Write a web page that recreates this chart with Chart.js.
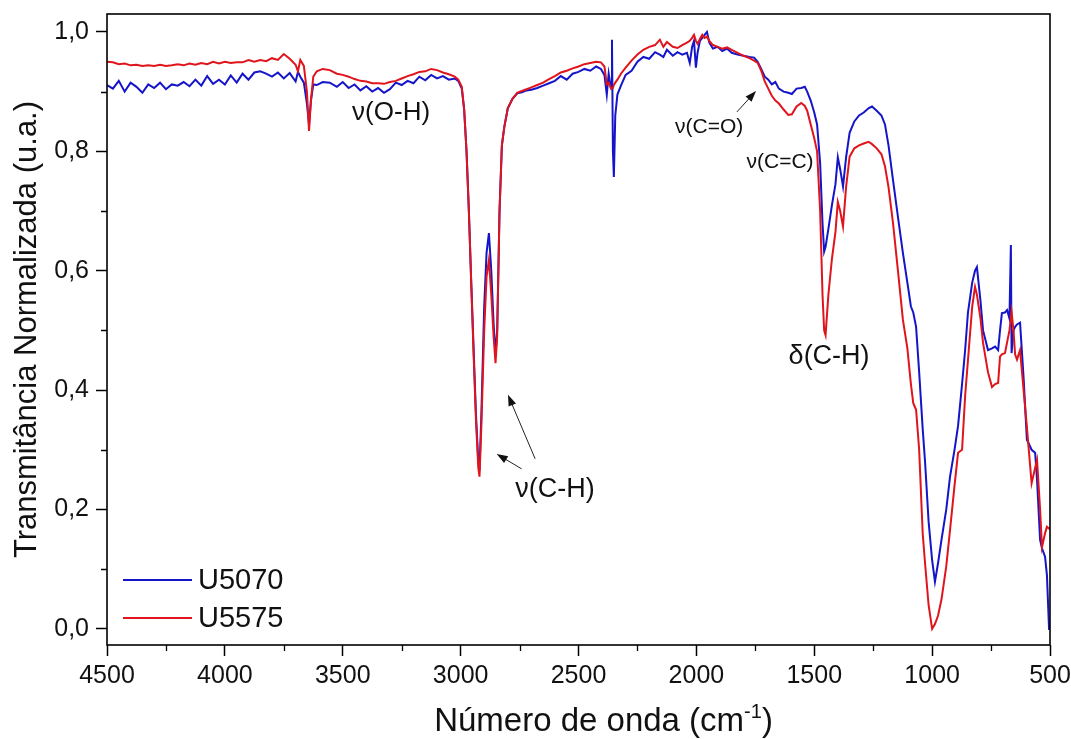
<!DOCTYPE html>
<html>
<head>
<meta charset="utf-8">
<title>FTIR U5070 / U5575</title>
<script src="https://cdn.jsdelivr.net/npm/chart.js@4.4.1/dist/chart.umd.min.js"></script>
<style>
    html, body { margin: 0; padding: 0; background: #fff; }
    #wrap { width: 1071px; height: 739px; }
</style>
</head>
<body>
<div id="wrap"><canvas id="ftir" width="1071" height="739"></canvas></div>
<script>
// Wavenumber (cm-1), shared by both spectra
const wavenumber = [
    4500, 4475, 4450, 4425, 4400, 4375, 4350, 4325, 4300, 4275,
    4250, 4225, 4200, 4175, 4150, 4125, 4100, 4075, 4050, 4025,
    4000, 3975, 3950, 3925, 3900, 3875, 3850, 3825, 3800, 3775,
    3750, 3725, 3700,
    3690, 3680, 3665, 3652, 3643, 3635, 3625, 3610, 3585, 3555,
    3525, 3500, 3475, 3450, 3425, 3400, 3375, 3350, 3325, 3300,
    3275, 3250, 3225, 3200, 3175, 3150, 3125, 3100, 3075, 3050,
    3025, 3010,
    2995, 2985, 2975, 2965, 2955, 2945, 2935, 2925, 2920, 2912,
    2900, 2890, 2880, 2870, 2860, 2852, 2845, 2835, 2825, 2815,
    2800, 2780, 2760,
    2740, 2720, 2700, 2675, 2650, 2625, 2600, 2575, 2550, 2525,
    2500, 2475, 2450, 2425, 2405, 2390, 2380, 2372, 2362, 2358,
    2354, 2350, 2344, 2335, 2320, 2300, 2275, 2250, 2225, 2200,
    2175, 2155, 2140, 2125, 2100, 2080, 2060, 2040, 2028, 2018,
    2010, 2002, 1995, 1985, 1975, 1965, 1955, 1945, 1930, 1910,
    1890, 1870, 1850, 1825, 1800, 1775, 1755,
    1740, 1725, 1710, 1695, 1680, 1665, 1650, 1630, 1610, 1595,
    1575, 1555, 1540, 1530, 1515, 1500, 1488, 1475, 1465, 1458,
    1452, 1440, 1425, 1410, 1400, 1390, 1378, 1365, 1350, 1330,
    1310, 1290, 1270, 1255, 1235, 1215, 1200, 1185, 1166, 1145,
    1124, 1105, 1090, 1080, 1068, 1055, 1040, 1030, 1015, 1000,
    988, 975, 960, 940, 924, 905, 890, 873, 860, 848,
    830, 818, 810, 795, 784, 763, 746, 733, 720, 712,
    704, 691, 682, 672, 666, 663, 655, 648, 640, 627,
    612, 598, 578, 563, 555, 542, 534, 521, 513, 504,
    500
];

// Normalized transmittance, sample U5070
const u5070 = [
    .911, .905, .918, .900, .915, .908, .898, .912, .906, .915,
    .904, .912, .910, .916, .909, .920, .910, .926, .913, .920,
    .912, .927, .915, .930, .920, .932, .934, .930, .925, .932,
    .922, .931, .917,
    .933, .925, .915, .880, .845, .885, .912, .911, .916, .915,
    .908, .916, .906, .912, .902, .909, .900, .906, .898, .904,
    .915, .911, .918, .914, .925, .919, .928, .922, .926, .920,
    .922, .918,
    .905, .870, .800, .700, .580, .470, .360, .280, .265, .360,
    .540, .630, .663, .600, .510, .460, .500, .700, .810, .840,
    .872, .888, .897,
    .899, .902, .903, .906, .910, .914, .918, .926, .920, .930,
    .933, .938, .935, .942, .938, .928, .895, .930, .905, .987,
    .800, .757, .860, .895, .910, .928, .935, .950, .958, .955,
    .966, .962, .958, .970, .960, .966, .962, .965, .948, .975,
    .985, .940, .965, .985, .990, .995, 1.00, .982, .972, .975,
    .968, .972, .965, .962, .960, .958, .957,
    .950, .938, .925, .920, .912, .916, .905, .900, .898, .896,
    .905, .906, .908, .900, .885, .865, .845, .780, .680, .632,
    .640, .670, .710, .745, .790, .770, .741, .790, .831, .850,
    .860, .865, .872, .875, .868, .860, .845, .810, .752, .690,
    .630, .580, .540, .530, .506, .430, .335, .280, .180, .115,
    .079, .110, .150, .200, .255, .300, .340, .410, .467, .530,
    .580, .600, .606, .550, .500, .467, .470, .473, .467, .500,
    .529, .530, .534, .520, .643, .462, .500, .506, .510, .513,
    .420, .317, .300, .295, .250, .149, .135, .121, .090, .000,
    .000
];

// Normalized transmittance, sample U5575
const u5575 = [
    .950, .949, .946, .947, .944, .945, .943, .944, .943, .945,
    .943, .944, .946, .944, .947, .945, .948, .946, .950, .947,
    .950, .948, .949, .949, .953, .950, .953, .951, .956, .953,
    .963, .955, .945,
    .934, .953, .943, .900, .834, .885, .925, .934, .938, .936,
    .930, .928, .925, .921, .918, .917, .914, .914, .913, .916,
    .918, .922, .926, .929, .933, .934, .938, .936, .932, .929,
    .925, .920,
    .908, .870, .800, .700, .580, .460, .350, .270, .255, .340,
    .500, .590, .618, .560, .490, .445, .490, .700, .810, .840,
    .872, .888, .898,
    .901, .904, .907, .911, .915, .921, .926, .932, .935, .939,
    .942, .946, .948, .950, .949, .942, .912, .915, .905, .905,
    .906, .911, .915, .920, .930, .940, .952, .962, .970, .975,
    .978, .987, .975, .983, .975, .973, .978, .982, .985, .990,
    .995, .985, .980, .988, .995, .990, .992, .985, .978, .975,
    .972, .974, .970, .965, .960, .956, .952,
    .948, .935, .917, .905, .893, .885, .880, .870, .861, .862,
    .875, .881, .876, .868, .845, .822, .800, .700, .560, .500,
    .492, .560, .620, .665, .715, .700, .674, .740, .791, .805,
    .810, .813, .816, .812, .805, .795, .775, .740, .680, .600,
    .518, .470, .410, .378, .367, .300, .160, .110, .040, .000,
    .008, .022, .050, .105, .166, .240, .295, .300, .390, .450,
    .540, .573, .560, .520, .479, .430, .405, .410, .412, .456,
    .460, .462, .480, .500, .520, .531, .500, .460, .451, .467,
    .400, .338, .244, .270, .283, .200, .137, .160, .171, .168,
    .170
];

const seriesNames = ['U5070', 'U5575'];
const seriesColors = ['#1414c8', '#e0141c'];

const xMajorTicks = [4500, 4000, 3500, 3000, 2500, 2000, 1500, 1000, 500];
const xMinorTicks = [4250, 3750, 3250, 2750, 2250, 1750, 1250, 750];
const yMajorTicks = [0, 0.2, 0.4, 0.6, 0.8, 1.0];
const yMinorTicks = [0.1, 0.3, 0.5, 0.7, 0.9];

// band labels, placed in data coordinates
const bandLabels = [
    { text: 'ν(O-H)', x: 3295, y: 0.864, size: 26 },
    { text: 'ν(C-H)', x: 2600, y: 0.233, size: 27 },
    { text: 'ν(C=O)', x: 1946, y: 0.841, size: 21 },
    { text: 'ν(C=C)', x: 1645, y: 0.782, size: 21 },
    { text: 'δ(C-H)', x: 1437, y: 0.457, size: 27 }
];
const bandArrows = [
    { from: [2741, 0.268], to: [2847, 0.293] },
    { from: [2684, 0.285], to: [2799, 0.392] },
    { from: [1828, 0.866], to: [1747, 0.901] }
];

const FONT = 'Liberation Sans, Arial, sans-serif';

function drawArrow(ctx, x1, y1, x2, y2) {
    const ang = Math.atan2(y2 - y1, x2 - x1);
    const len = 11, half = 4;
    ctx.beginPath();
    ctx.moveTo(x1, y1);
    ctx.lineTo(x2 - Math.cos(ang) * len * 0.8, y2 - Math.sin(ang) * len * 0.8);
    ctx.stroke();
    ctx.beginPath();
    ctx.moveTo(x2, y2);
    ctx.lineTo(x2 - Math.cos(ang) * len - Math.sin(ang) * half, y2 - Math.sin(ang) * len + Math.cos(ang) * half);
    ctx.lineTo(x2 - Math.cos(ang) * len + Math.sin(ang) * half, y2 - Math.sin(ang) * len - Math.cos(ang) * half);
    ctx.closePath();
    ctx.fill();
}

// frame, minor ticks, legend, band labels and x title
const decorations = {
    id: 'decorations',
    afterDraw(chart) {
        const { ctx, chartArea: area, scales: { x, y } } = chart;
        ctx.save();
        ctx.strokeStyle = '#000';
        ctx.fillStyle = '#000';

        ctx.lineWidth = 1.6;
        ctx.strokeRect(area.left, area.top, area.right - area.left, area.bottom - area.top);

        ctx.lineWidth = 1.3;
        ctx.beginPath();
        xMinorTicks.forEach(v => {
            const px = Math.round(x.getPixelForValue(v)) + 0.5;
            ctx.moveTo(px, area.bottom);
            ctx.lineTo(px, area.bottom + 6);
        });
        yMinorTicks.forEach(v => {
            const py = Math.round(y.getPixelForValue(v)) + 0.5;
            ctx.moveTo(area.left - 6, py);
            ctx.lineTo(area.left, py);
        });
        ctx.stroke();

        // legend
        ctx.font = `29px ${FONT}`;
        ctx.textBaseline = 'middle';
        ctx.textAlign = 'left';
        seriesNames.forEach((name, i) => {
            const ly = area.bottom - 65 + i * 38;
            ctx.strokeStyle = seriesColors[i];
            ctx.lineWidth = 2;
            ctx.beginPath();
            ctx.moveTo(area.left + 16, ly);
            ctx.lineTo(area.left + 85, ly);
            ctx.stroke();
            ctx.fillStyle = '#111';
            ctx.fillText(name, area.left + 91, ly + 1);
        });

        // band labels
        ctx.fillStyle = '#111';
        ctx.textAlign = 'center';
        bandLabels.forEach(b => {
            ctx.font = `${b.size}px ${FONT}`;
            ctx.fillText(b.text, x.getPixelForValue(b.x), y.getPixelForValue(b.y));
        });
        ctx.strokeStyle = '#222';
        ctx.fillStyle = '#111';
        ctx.lineWidth = 1;
        bandArrows.forEach(a => {
            drawArrow(ctx,
                x.getPixelForValue(a.from[0]), y.getPixelForValue(a.from[1]),
                x.getPixelForValue(a.to[0]), y.getPixelForValue(a.to[1]));
        });

        // x axis title with superscript
        const main = 'Número de onda (cm';
        const sup = '-1';
        const tail = ')';
        ctx.textAlign = 'left';
        ctx.textBaseline = 'alphabetic';
        ctx.font = `33px ${FONT}`;
        const wMain = ctx.measureText(main).width;
        const wTail = ctx.measureText(tail).width;
        ctx.font = `20px ${FONT}`;
        const wSup = ctx.measureText(sup).width;
        const total = wMain + wSup + wTail;
        let tx = (area.left + area.right) / 2 + 25 - total / 2;
        const base = 731;
        ctx.font = `33px ${FONT}`;
        ctx.fillText(main, tx, base);
        tx += wMain;
        ctx.font = `20px ${FONT}`;
        ctx.fillText(sup, tx, base - 13);
        tx += wSup;
        ctx.font = `33px ${FONT}`;
        ctx.fillText(tail, tx, base);
        ctx.restore();
    }
};

const datasets = [u5070, u5575].map((values, i) => ({
    label: seriesNames[i],
    data: wavenumber.map((w, j) => ({ x: w, y: values[j] })),
    borderColor: seriesColors[i],
    borderWidth: 2,
    pointRadius: 0,
    tension: 0,
    order: i === 0 ? 1 : 0
}));

new Chart(document.getElementById('ftir'), {
    type: 'line',
    data: { datasets },
    options: {
        responsive: false,
        devicePixelRatio: 1,
        animation: false,
        layout: { padding: { left: 0, right: 21, top: 14, bottom: 0 } },
        plugins: {
            legend: { display: false },
            tooltip: { enabled: false }
        },
        scales: {
            x: {
                type: 'linear',
                min: 500,
                max: 4500,
                reverse: true,
                afterBuildTicks: s => { s.ticks = xMajorTicks.map(v => ({ value: v })); },
                afterFit: s => { s.height = 94; s.paddingLeft = 0; s.paddingRight = 0; },
                border: { display: false },
                grid: { drawOnChartArea: false, tickLength: 11, tickColor: '#000', tickWidth: 1.5 },
                ticks: {
                    autoSkip: false,
                    maxRotation: 0,
                    padding: 5,
                    color: '#111',
                    font: { family: FONT, size: 25 },
                    callback: v => String(v)
                }
            },
            y: {
                type: 'linear',
                min: -0.027,
                max: 1.03,
                afterBuildTicks: s => { s.ticks = yMajorTicks.map(v => ({ value: v })); },
                afterFit: s => { s.width = 107; s.paddingTop = 0; s.paddingBottom = 0; },
                border: { display: false },
                grid: { drawOnChartArea: false, tickLength: 11, tickColor: '#000', tickWidth: 1.5 },
                ticks: {
                    padding: 7,
                    color: '#111',
                    font: { family: FONT, size: 25 },
                    callback: v => v.toFixed(1).replace('.', ',')
                },
                title: {
                    display: true,
                    text: 'Transmitância Normalizada (u.a.)',
                    color: '#111',
                    font: { family: FONT, size: 31 },
                    padding: { top: 9, bottom: 0 }
                }
            }
        }
    },
    plugins: [decorations]
});
</script>
</body>
</html>
